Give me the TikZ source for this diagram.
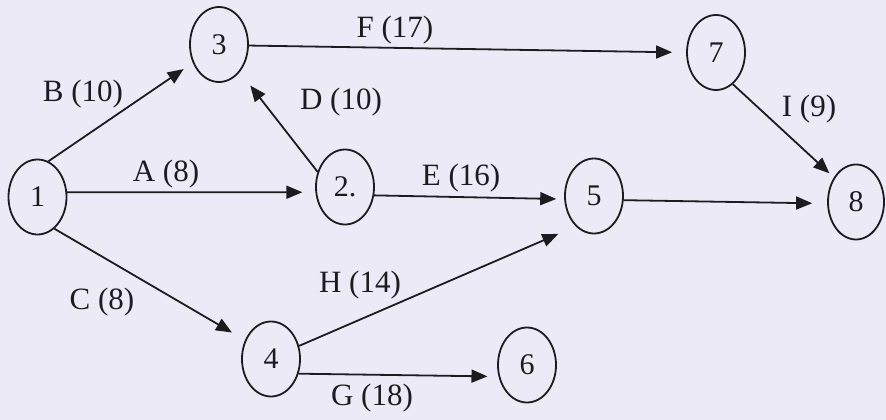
\documentclass[tikz,border=0pt]{standalone}
\usepackage{fontspec}
\setmainfont{Liberation Serif}
\usetikzlibrary{arrows.meta,shapes.geometric}
\definecolor{bg}{RGB}{237,234,247}
\definecolor{ink}{RGB}{28,28,32}
\begin{document}
\begin{tikzpicture}[x=1pt,y=-1pt,
  ev/.style={draw=ink, ellipse, minimum width=58pt, minimum height=75pt, inner sep=0pt,
    line width=1.8pt, text=ink, font=\fontsize{30}{30}\selectfont},
  act/.style={draw=ink, line width=1.8pt, -{Triangle[length=16pt,width=13pt]}},
  lab/.style={inner sep=0pt, text=ink, font=\fontsize{31}{31}\selectfont}]
\fill[bg] (0,0) rectangle (886,420);
\useasboundingbox (0,0) rectangle (886,420);
% events
\node[ev] (n1) at (37.5,197) {1};
\node[ev] (n3) at (219,44.5) {3};
\node[ev] (n2) at (345,187) {2.};
\node[ev] (n7) at (716,52.5) {7};
\node[ev] (n5) at (594,196) {5};
\node[ev, minimum width=56pt] (n8) at (856,202) {8};
\node[ev] (n4) at (271,359) {4};
\node[ev] (n6) at (527,365) {6};
% activities
\draw[act, shorten >=11pt] (n1.73) -- (n3.215);
\draw[act, shorten >=13pt] (n1.9) -- (n2.190);
\draw[act, shorten >=17pt] (n2.151) -- (n3.307);
\draw[act, shorten >=14pt] (n3.358) -- (n7.180);
\draw[act, shorten >=8pt] (n2.344) -- (n5.186);
\draw[act, shorten >=15pt] (n5.352) -- (n8.183);
\draw[act, shorten >=6pt] (n7.298) -- (n8.132);
\draw[act, shorten >=15pt] (n1.298) -- (n4.144);
\draw[act, shorten >=19pt] (n4.25) -- (n5.239);
\draw[act, shorten >=11pt] (n4.332) -- (n6.202);
% labels
\node[lab] (lB) at (83,94) {B (10)};
\node[lab] (lA) at (166,174) {A (8)};
\node[lab] (lD) at (341,102) {D (10)};
\node[lab] (lF) at (395,30) {F (17)};
\node[lab] (lE) at (461,178) {E (16)};
\node[lab] (lI) at (809,109) {I (9)};
\node[lab] (lC) at (102,302) {C (8)};
\node[lab] (lH) at (360,285) {H (14)};
\node[lab] (lG) at (372,398) {G (18)};
\end{tikzpicture}
\end{document}
